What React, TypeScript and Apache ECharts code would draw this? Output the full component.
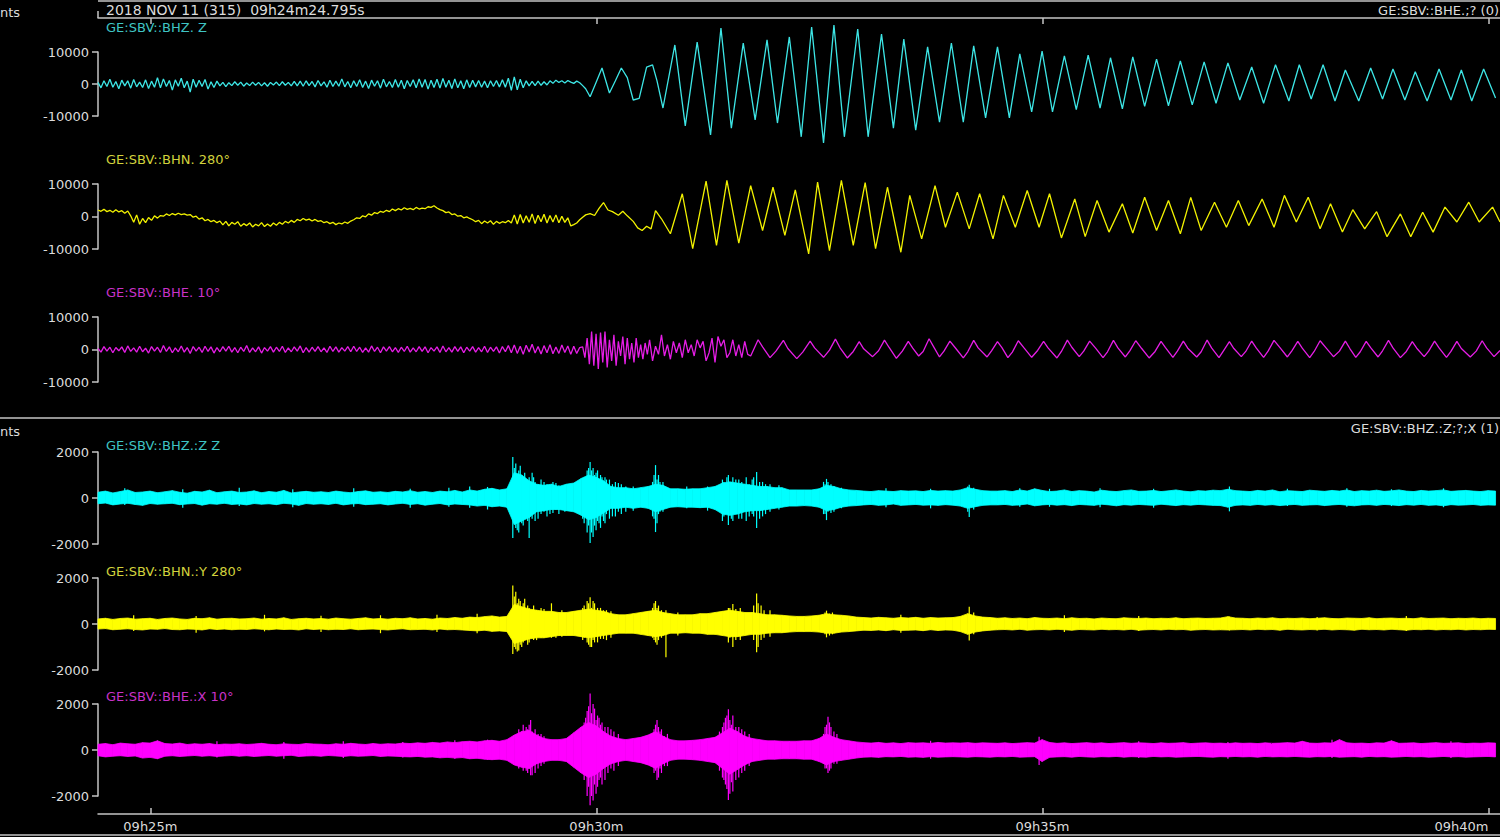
import React, { useEffect, useRef } from "react";
import * as echarts from "echarts";

// ---- time axis (seconds after 09h24m24.795s) ----
const SPAN_S = 943;
const TICK_S = [35.205, 335.205, 635.205, 935.205];
const TICK_LABELS = ["09h25m", "09h30m", "09h35m", "09h40m"];
const NOISE_STEP_S = 2;
const BAND_STEP_S = 5;

// ---- upper panel: broadband traces, kilo-counts ----
// noise part sampled every 2 s from t=0
const Z_NOISE_K = [
  0.5,-1.2,1.0,-0.8,1.5,-1.0,0.8,-1.5,1.2,-0.6,1.0,-1.3,1.4,-0.9,0.6,-1.1,1.3,-1.4,0.9,-1.0,2.0,
  -1.2,1.6,-0.8,1.1,-1.9,1.3,-0.7,1.8,-1.2,0.9,-2.5,1.5,-1.0,1.2,-0.8,1.4,-1.6,0.7,-1.1,0.9,
  -0.6,0.5,-0.8,0.4,-0.5,0.7,-0.4,0.6,-0.7,0.3,-0.5,0.6,-0.4,0.5,-0.6,0.4,-0.7,0.5,-0.3,0.6,-0.5,0.7,-0.4,0.5,-0.6,
  0.8,-0.6,0.9,-0.7,1.0,-0.5,0.8,-0.9,1.1,-0.6,0.7,-1.0,1.2,-0.8,0.9,-0.7,1.6,-0.9,0.8,-1.2,
  1.0,-0.8,1.3,-1.1,0.9,-1.4,1.2,-0.7,1.0,-1.3,1.5,-0.9,0.8,-1.1,1.4,-1.0,1.2,-1.5,1.1,-0.8,
  1.3,-1.2,1.6,-1.0,1.4,-1.6,1.2,-1.1,1.5,-1.3,1.7,-1.0,1.2,-1.4,1.6,-1.2,1.0,-1.5,1.3,-1.1,
  1.2,-0.9,1.1,-1.0,0.9,-1.2,1.0,-0.8,1.1,-0.9,1.3,-1.0,1.8,-2.0,2.2,
  -1.8,1.5,-1.2,1.0,-0.6,0.8,-0.5,0.9,-0.4,0.7,-0.3,1.0,0.2,1.2,0.5,1.0,0.3,1.1,0.6,0.2,0.9,0.4,-0.5,-1.5,
];
// surface-wave part: [t s, kilo-counts] at peaks and troughs
const Z_WAVE_K = [
  [331,-4.0],[335,0.5],[339,5.0],[344,-2.8],[348,1.0],[352,5.0],[356,2.0],[360,-5.0],[364,-4.5],[369,5.3],[373,6.0],[376,1.0],[380,-7.5],
  [388,12.2],[395,-13.1],[403,13.1],[412,-15.9],[419,17.5],[426,-13.8],[434,12.8],[442,-11.2],[450,13.8],[457,-12.2],
  [465,14.7],[473,-16.5],[480,17.8],[488,-18.4],[495,18.4],[502,-16.5],[511,17.2],[518,-16.5],[527,15.6],[535,-13.8],
  [542,14.0],[550,-14.4],[558,11.6],[566,-11.9],[574,12.8],[582,-11.9],[589,11.9],[597,-10.6],[605,11.6],[613,-10.6],
  [620,9.4],[628,-8.7],[635,10.3],[642,-8.7],[650,8.8],[658,-8.0],[666,9.0],[674,-7.5],[681,8.2],[689,-7.8],[696,8.5],
  [704,-7.0],[712,7.8],[720,-6.8],[728,7.2],[736,-6.5],[744,6.9],[752,-6.0],[760,6.6],[768,-5.0],[776,5.3],[784,-6.0],
  [792,6.0],[801,-5.3],[808,6.0],[816,-4.7],[824,6.0],[832,-5.3],[839,4.4],[848,-5.3],[856,5.0],[864,-4.7],[871,4.7],
  [879,-5.0],[886,3.8],[894,-5.3],[902,4.7],[910,-5.0],[917,4.4],[924,-5.3],[932,4.7],[940,-4.4],
];

const N_NOISE_K = [
  2.0,1.6,2.2,1.5,1.9,1.3,2.1,1.4,1.8,1.0,1.7,
  0.2,-1.8,0.5,-2.4,-0.6,-1.9,-0.3,-1.2,0.2,-0.5,
  0.3,0.1,0.8,0.3,0.9,0.5,1.0,0.6,0.8,0.4,
  0.6,-0.2,0.1,-0.8,-0.4,-1.3,-0.9,-1.6,-1.2,-1.9,
  -1.4,-2.6,-1.5,-2.9,-1.8,-2.4,-1.6,-3.0,-2.2,-2.8,-2.0,-3.2,-2.4,-2.9,-1.9,-3.1,-2.3,-3.0,-2.0,-2.7,
  -1.8,-2.4,-1.5,-2.0,-1.2,-1.8,-0.9,-1.3,-0.6,-1.1,-0.8,-1.4,-0.9,-1.5,
  -1.3,-1.9,-1.6,-2.2,-1.8,-2.5,-2.0,-2.3,-1.7,-2.1,-1.4,
  -1.0,-0.4,-0.6,0.2,-0.1,0.8,0.4,1.2,0.9,1.6,1.3,
  1.9,1.5,2.3,1.8,2.4,2.0,2.7,2.2,2.5,2.1,2.8,2.3,2.6,2.4,3.0,2.8,3.3,
  2.6,2.1,1.8,1.2,1.4,0.6,0.8,0.1,0.3,-0.4,-0.1,-0.6,
  -1.0,-1.6,-1.2,-2.2,-1.4,-2.0,-1.3,-2.4,-1.5,-2.1,-1.6,-1.9,-1.2,-2.0,
  0.5,-2.3,0.6,-2.0,0.2,-1.8,0.8,-2.2,0.4,-1.6,0.7,-2.0,0.3,-1.7,0.5,-1.9,0.1,-1.8,-0.4,
  -2.9,-2.5,-2.0,-1.0,-0.2,0.5,
];
const N_WAVE_K = [
  [331,0.9],[334,0.3],[337,2.5],[340,4.3],[343,2.0],[346,1.5],[350,0.4],[353,1.6],[356,0.2],[360,-1.5],[363,-3.5],
  [366,-4.3],[369,-3.0],[372,-3.8],[375,1.8],[379,-0.7],[385,-5.3],[393,7.0],[400,-9.9],[409,10.9],[416,-8.9],
  [423,11.1],[431,-8.2],[439,9.5],[447,-4.3],[454,9.0],[462,-5.8],[469,8.2],[478,-11.5],[484,10.6],[492,-10.5],
  [500,11.1],[508,-8.9],[516,10.4],[523,-9.9],[531,9.0],[540,-11.0],[546,6.5],[554,-6.9],[563,9.5],[570,-3.3],
  [578,7.5],[586,-3.8],[593,7.0],[602,-6.9],[609,6.5],[617,-3.3],[625,8.0],[633,-3.3],[640,7.0],[648,-6.6],
  [657,5.4],[664,-6.2],[672,4.9],[680,-4.8],[689,3.9],[696,-5.1],[704,5.9],[712,-4.3],[720,4.9],[728,-5.3],
  [735,5.9],[742,-4.3],[751,4.4],[759,-3.3],[767,4.9],[774,-2.8],[783,5.4],[791,-3.3],[798,6.5],[806,-1.7],
  [814,5.9],[822,-3.8],[829,3.9],[837,-4.8],[844,2.1],[852,-3.8],[860,1.5],[867,-6.2],[876,0.8],[883,-6.2],
  [891,1.3],[898,-4.8],[906,2.9],[914,-1.7],[922,4.4],[929,-1.7],[938,2.9],[943,-1.7],
];

const E_NOISE_K = [
  0.3,-0.8,0.9,-0.5,0.7,-1.0,0.6,-0.4,0.8,-0.9,1.1,-0.6,0.5,-0.8,1.0,-0.7,0.4,-1.1,0.9,-0.5,0.7,
  -0.9,1.2,-0.6,0.8,-1.0,0.5,-0.7,1.1,-0.8,0.6,-1.2,0.9,-0.5,0.7,-0.9,1.0,-0.6,0.8,-1.1,0.6,
  -0.7,0.9,-0.5,1.0,-0.8,0.6,-1.0,0.7,-0.6,1.2,-0.9,0.5,-0.7,0.8,-1.1,0.6,-0.5,0.9,-0.8,0.7,
  -0.6,1.0,-0.9,0.5,-0.7,0.8,-0.5,1.1,-1.0,0.6,-0.8,0.7,-0.6,0.9,-0.7,0.5,-0.9,1.0,-0.6,0.8,
  -0.8,0.6,-0.5,0.9,-0.7,1.0,-0.6,0.7,-0.9,0.5,-0.8,1.1,-0.6,0.7,-1.0,0.8,-0.5,0.9,-0.7,0.6,
  -0.9,0.7,-0.6,1.0,-0.8,0.5,-0.7,0.9,-0.6,0.8,-1.0,0.6,-0.5,0.8,-0.9,1.1,-0.7,0.6,-0.8,0.9,
  -0.6,0.8,-1.0,0.7,-0.5,0.9,-0.8,0.6,-0.7,1.0,-0.9,0.7,-0.6,0.8,-1.1,0.9,-0.7,1.2,-1.0,
  1.4,-1.2,1.0,-1.5,1.3,-0.8,1.6,-1.1,0.9,-1.4,1.2,-1.0,1.5,-1.3,0.8,-1.2,1.4,-0.9,1.1,-1.5,1.0,-1.2,0.6,
];
const E_WAVE_K = [
  [326,0.8],[327.5,-2.5],[329,3.5],[330.5,-4.5],[332,5.5],[333.5,-5.0],[335,4.8],[336.5,-6.0],[338,5.2],[339.5,-4.0],
  [341,5.5],[342.5,-5.5],[344,3.0],[345.5,-3.5],[347,4.5],[348.5,-5.0],[350,2.5],[351.5,-2.0],[353,4.0],[354.5,-4.5],
  [356,3.5],[357.5,-3.0],[359,2.0],[360.5,-4.0],[362,3.5],[363.5,-2.5],[365,1.5],[366.5,-3.0],[368,2.0],[369.5,-1.5],
  [371,3.0],[373,-3.5],[375,1.0],[377,-1.5],[379,4.5],[381,-2.0],[383,1.5],[385,-3.0],[387,2.5],[389,-1.0],
  [391,2.0],[393,-2.5],[395,3.0],[397,-1.0],[399,1.5],[401,-2.0],[403,3.0],[405,0.5],[407,2.5],[409,-3.5],
  [411,-1.0],[413,3.5],[415,-4.0],[417,4.0],[419,1.0],[421,3.0],[423,-2.5],[425,-1.0],[427,3.0],[429,-2.0],
  [431,1.5],[433,-2.5],[435,2.5],[437,-1.5],[439,-2.0],
  [444,3.0],[447,0.8],[452,-2.5],[456,-0.5],[461,2.8],[464,0.3],[470,-2.8],[474,-0.8],
  [479,2.6],[482,0.5],[488,-2.4],[492,-0.2],[496,3.2],[499,0.6],[504,-2.6],[508,-0.6],
  [512,2.4],[515,0.2],[521,-2.2],[525,-0.4],[529,2.9],[532,0.7],[537,-2.7],[541,-0.5],
  [545,2.5],[548,0.4],[552,-2.0],[555,-0.6],[559,3.3],[562,0.9],[566,-2.3],[569,-0.5],
  [573,2.6],[577,0.3],[582,-2.6],[585,-0.7],[589,2.8],[592,0.5],[598,-2.3],[601,-0.4],
  [605,2.4],[608,0.6],[612,-2.5],[615,-0.8],[619,2.7],[623,0.4],[628,-2.4],[632,-0.3],
  [636,2.5],[639,0.5],[645,-2.6],[648,-0.6],[652,2.9],[655,0.7],[660,-2.2],[663,-0.5],
  [667,2.6],[671,0.4],[676,-2.5],[679,-0.7],[683,2.8],[686,0.5],[691,-2.3],[694,-0.4],
  [698,2.7],[702,0.3],[707,-2.6],[711,-0.6],[715,2.5],[718,0.6],[723,-2.4],[726,-0.5],
  [730,2.6],[733,0.4],[739,-2.3],[742,-0.7],[746,2.9],[749,0.5],[754,-2.5],[757,-0.4],
  [761,2.4],[764,0.3],[769,-2.2],[772,-0.6],[776,2.6],[779,0.5],[784,-2.4],[787,-0.5],
  [791,2.8],[795,0.6],[800,-2.3],[803,-0.4],[807,2.5],[810,0.4],[815,-2.5],[818,-0.6],
  [822,2.7],[826,0.5],[831,-2.2],[835,-0.5],[839,2.6],[842,0.3],[846,-2.4],[849,-0.7],
  [853,2.5],[856,0.6],[861,-2.3],[864,-0.4],[868,2.8],[871,0.5],[876,-2.5],[880,-0.6],
  [884,2.4],[887,0.4],[892,-2.2],[895,-0.5],[899,2.6],[902,0.5],[907,-2.4],[910,-0.6],
  [914,2.5],[917,0.3],[923,-2.3],[927,-0.5],[931,2.7],[934,0.5],[939,-2.2],[943,-0.3],
];

// ---- lower panel: high-pass traces, envelope (counts) every 5 s, plus spikes [t, top, bottom] ----
const BZ_HI = [
  250,300,220,280,350,240,260,300,230,270,320,250,210,290,260,340,230,270,300,240,260,310,230,280,250,330,220,260,290,250,270,240,300,260,230,280,310,250,270,240,290,260,320,250,280,240,300,270,330,260,
  350,300,380,420,350,400,
  1100,1000,750,600,550,600,500,600,650,850,1000,900,750,500,450,450,400,450,500,600,550,400,400,380,400,400,450,500,650,700,650,600,550,500,500,450,450,350,350,350,350,400,550,500,400,350,330,
  300,280,320,300,280,320,300,310,280,330,300,320,300,
  350,450,380,320,300,
  300,320,280,350,300,400,330,280,300,350,280,320,300,260,340,300,280,320,350,290,300,330,280,310,350,300,270,320,300,340,
  320,380,320,
  300,280,330,300,350,270,320,300,280,340,310,290,330,300,350,280,320,300,340,290,310,350,300,280,330,300,320,350,290,310,330,300,280,320,300,
];
const BZ_LO = [
  -250,-220,-300,-260,-230,-280,-320,-240,-270,-250,-230,-290,-260,-240,-310,-250,-270,-230,-280,-260,-300,-240,-270,-250,-290,-230,-260,-320,-240,-270,-250,-280,-230,-300,-260,-240,-290,-270,-250,-300,-260,-230,-280,-250,-310,-270,-240,-300,-260,-280,
  -300,-350,-320,-380,-350,-400,
  -1150,-1000,-850,-600,-550,-500,-500,-550,-600,-750,-950,-850,-650,-450,-450,-400,-450,-400,-450,-600,-500,-400,-380,-400,-400,-420,-400,-500,-700,-750,-700,-600,-550,-550,-500,-450,-400,-350,-350,-330,-350,-400,-550,-500,-400,-350,-330,
  -300,-280,-320,-300,-260,-320,-300,-280,-310,-300,-320,-290,-310,
  -350,-450,-380,-320,-300,
  -300,-280,-320,-300,-260,-340,-300,-280,-310,-290,-330,-280,-300,-320,-270,-300,-340,-290,-310,-280,-300,-320,-270,-300,-330,-290,-310,-280,-300,-320,
  -330,-400,-320,
  -300,-320,-280,-310,-290,-330,-300,-280,-320,-300,-290,-330,-300,-280,-310,-340,-300,-290,-320,-280,-300,-330,-290,-310,-280,-320,-300,-340,-290,-310,-300,-280,-320,-300,-310,
];
const BZ_SPIKES = [
  [18,420,-300],[57,380,-420],[95,450,-350],[131,380,-400],[172,420,-380],[210,400,-420],[236,450,-380],[250,500,-420],[262,480,-500],
  [279,1780,-1740],[280,1300,-1100],[281,1500,-1300],[282,1000,-1400],[283,1200,-1500],[284,1400,-900],[285,900,-1100],
  [286,800,-1200],[287,1100,-800],[289,700,-1000],[290,900,-1740],[292,1100,-900],[293,900,-700],[294,700,-1000],
  [296,600,-900],[298,800,-700],[300,700,-600],[302,600,-800],[304,500,-700],[306,700,-650],[308,650,-500],[310,550,-700],
  [314,500,-600],[318,600,-500],[326,800,-900],[327,900,-1100],[329,1200,-1500],[330,1300,-1200],[331,1570,-1960],
  [332,1200,-1500],[333,1300,-1700],[334,1000,-1200],[335,1100,-1400],[336,1200,-1000],[337,800,-1100],[338,1000,-1300],
  [339,900,-800],[340,700,-1000],[341,900,-1100],[342,800,-700],[344,800,-900],[346,600,-800],[348,700,-800],[350,650,-600],
  [352,600,-700],[355,500,-600],[360,500,-550],[373,700,-800],[374,1000,-900],[375,1430,-1480],[376,800,-1100],
  [377,1000,-700],[378,700,-600],[380,700,-600],[396,500,-450],[410,500,-550],
  [420,800,-1000],[421,700,-800],[423,900,-700],[424,1000,-1170],[426,700,-900],[427,900,-1000],[429,800,-700],
  [431,800,-900],[433,700,-900],[436,900,-1000],[438,600,-800],[440,800,-700],[441,900,-800],[443,1130,-1300],
  [445,700,-900],[447,700,-800],[449,600,-700],[452,600,-600],[458,550,-500],[488,700,-700],[489,600,-700],
  [490,830,-960],[491,700,-600],[493,600,-650],[495,500,-600],[500,450,-450],
  [530,420,-400],[560,400,-450],[585,500,-600],[586,580,-830],[589,450,-500],[620,420,-380],[640,400,-380],[674,420,-400],
  [710,400,-420],[761,500,-580],[800,400,-350],[840,420,-380],[870,380,-350],[905,420,-400],
];

const BY_HI = [
  220,250,200,240,260,210,230,250,200,240,260,220,200,250,230,270,210,240,250,220,230,260,210,240,220,270,200,230,250,220,240,210,260,230,210,240,270,220,240,210,250,230,270,220,240,210,260,240,280,250,
  300,280,320,350,300,330,
  850,750,650,600,550,550,500,500,550,600,650,600,550,450,400,400,450,500,550,600,500,450,400,400,400,450,450,500,550,600,550,500,500,450,400,400,380,350,330,330,350,380,450,400,380,350,300,
  280,260,290,270,250,280,260,290,250,280,260,270,280,
  330,450,350,300,280,
  250,270,240,260,230,280,250,240,260,230,270,240,250,220,260,240,230,270,250,240,260,230,250,240,270,230,250,260,240,250,
  260,320,260,
  250,230,260,240,270,230,250,240,260,230,250,270,240,230,260,250,240,270,230,250,260,240,250,230,270,240,250,260,230,250,240,260,230,250,240,
];
const BY_LO = [
  -220,-200,-250,-230,-210,-240,-260,-220,-230,-200,-240,-250,-220,-230,-260,-210,-240,-220,-250,-230,-240,-210,-230,-250,-220,-240,-230,-260,-210,-240,-220,-250,-230,-240,-210,-250,-230,-220,-240,-260,-230,-210,-250,-240,-230,-260,-220,-250,-240,-260,
  -280,-300,-270,-320,-300,-330,
  -850,-750,-650,-600,-600,-550,-500,-500,-500,-550,-600,-550,-500,-450,-400,-400,-400,-450,-500,-550,-500,-400,-400,-380,-400,-400,-450,-450,-500,-550,-550,-500,-450,-450,-400,-380,-380,-350,-330,-330,-330,-350,-400,-400,-350,-330,-300,
  -270,-280,-260,-290,-250,-280,-270,-260,-290,-250,-280,-260,-270,
  -330,-450,-350,-300,-270,
  -250,-240,-260,-230,-270,-250,-240,-260,-230,-250,-270,-240,-250,-260,-230,-250,-240,-260,-230,-270,-250,-240,-260,-230,-250,-240,-270,-250,-240,-260,
  -250,-260,-250,
  -240,-260,-230,-250,-240,-270,-230,-250,-260,-240,-250,-230,-260,-240,-250,-270,-230,-250,-240,-260,-230,-250,-270,-240,-250,-230,-260,-240,-250,-230,-260,-240,-250,-230,-240,
];
const BY_SPIKES = [
  [24,380,-300],[66,350,-380],[112,400,-320],[150,360,-350],[190,380,-400],[228,400,-350],[255,450,-400],
  [279,1670,-1300],[280,1200,-1000],[281,1400,-1100],[282,900,-1200],[283,1100,-1150],[284,1000,-900],[285,700,-1000],
  [286,900,-800],[287,1100,-700],[289,800,-900],[290,700,-800],[293,800,-700],[295,600,-700],[298,700,-600],[300,650,-550],
  [305,900,-600],[308,500,-600],[312,600,-550],[326,700,-700],[327,800,-600],[329,1000,-800],[330,900,-900],
  [331,1160,-1000],[332,700,-1000],[333,1000,-700],[334,900,-800],[336,700,-800],[338,700,-650],[340,600,-650],
  [342,600,-700],[345,550,-600],[373,700,-600],[374,900,-700],[375,1000,-800],[376,700,-900],[377,800,-700],
  [379,600,-600],[382,600,-1450],[390,500,-500],[424,700,-800],[425,700,-600],[427,870,-1000],[429,650,-700],
  [432,700,-700],[441,800,-700],[443,1330,-1230],[444,900,-1000],[446,800,-700],[448,600,-600],[452,600,-550],
  [489,500,-450],[490,580,-580],[492,450,-500],[494,500,-450],[540,400,-380],
  [586,750,-720],[589,500,-450],[650,380,-350],[700,350,-300],[761,320,-280],[820,300,-280],[880,350,-300],
];

const BX_HI = [
  250,280,230,300,270,250,320,300,400,280,260,300,240,270,250,280,230,260,250,270,240,260,290,250,230,270,250,240,280,260,250,230,270,250,290,260,240,280,250,270,260,300,280,310,290,330,300,350,320,360,
  380,350,400,420,380,450,
  650,800,850,650,500,450,450,500,750,1000,1200,1050,800,600,500,450,500,550,650,800,600,450,400,400,420,450,500,550,750,950,800,600,500,450,400,400,380,380,380,400,400,500,700,550,450,400,350,
  320,300,330,290,310,280,320,300,310,290,330,300,310,
  300,320,290,310,300,
  290,310,280,300,320,300,450,330,290,310,280,300,320,290,310,280,300,320,290,310,300,280,310,290,300,320,280,300,310,290,
  300,280,310,
  290,300,280,310,290,300,320,300,380,300,290,310,300,450,310,290,300,280,310,300,400,290,300,310,280,300,320,290,300,310,280,300,290,310,300,
];
const BX_LO = [
  -250,-300,-270,-250,-280,-260,-350,-320,-380,-270,-250,-280,-260,-240,-270,-250,-280,-260,-240,-270,-250,-280,-260,-240,-270,-250,-230,-280,-260,-250,-270,-240,-260,-280,-250,-270,-260,-240,-280,-260,-270,-290,-300,-280,-310,-300,-340,-320,-350,-330,
  -380,-360,-400,-420,-400,-450,
  -650,-750,-800,-600,-500,-450,-450,-500,-750,-1000,-1200,-1050,-800,-600,-500,-450,-500,-550,-650,-800,-600,-450,-400,-400,-420,-450,-500,-550,-800,-1050,-850,-650,-500,-450,-400,-400,-380,-380,-380,-400,-400,-500,-650,-500,-450,-400,-350,
  -310,-300,-320,-290,-300,-280,-310,-300,-320,-290,-310,-300,-290,
  -300,-310,-290,-300,-310,
  -290,-300,-280,-310,-300,-290,-500,-320,-300,-290,-310,-280,-300,-310,-290,-300,-280,-310,-290,-300,-310,-280,-300,-290,-310,-300,-290,-280,-300,-310,
  -290,-300,-280,
  -300,-290,-310,-280,-300,-290,-300,-280,-300,-310,-290,-300,-280,-310,-300,-290,-310,-280,-300,-290,-310,-300,-280,-300,-290,-310,-300,-280,-300,-290,-310,-300,-290,-280,-300,
];
const BX_SPIKES = [
  [40,400,-350],[80,380,-330],[125,350,-380],[165,380,-350],[205,350,-330],[240,420,-380],[262,450,-420],
  [283,900,-800],[285,800,-700],[286,1100,-900],[288,1000,-900],[289,900,-1000],[290,1100,-800],[291,1300,-1100],
  [292,800,-1100],[294,900,-1000],[296,700,-800],[298,700,-700],[300,600,-600],[326,900,-1000],[327,1200,-1300],
  [328,1400,-1100],[329,1700,-2000],[330,1900,-1600],[331,2460,-2400],[332,1600,-2000],[333,2000,-2200],[334,1800,-1500],
  [335,1300,-1900],[336,1500,-1600],[337,1400,-1300],[338,1100,-1200],[339,1200,-1500],[341,1000,-1300],[343,1000,-1000],
  [345,900,-800],[347,800,-900],[350,700,-700],[374,900,-1000],[375,1100,-900],[376,1300,-1300],[377,1000,-1200],
  [378,800,-800],[379,900,-1000],[381,600,-700],[383,700,-700],[418,800,-900],[420,1000,-1200],[421,1200,-1300],
  [422,1400,-1500],[423,1500,-1700],[424,1770,-2170],[425,1300,-1900],[426,1100,-1400],[427,1500,-1800],[429,1000,-1300],
  [431,1000,-1200],[433,900,-1000],[435,800,-900],[438,700,-700],[488,700,-600],[489,1000,-800],[490,1100,-800],
  [491,1450,-1000],[492,1200,-900],[493,1000,-800],[495,800,-600],[497,700,-600],[560,400,-380],
  [633,580,-650],[700,380,-350],[760,350,-380],[811,350,-300],[830,450,-350],[870,400,-300],[910,380,-350],
];

const FONT = '"DejaVu Sans", Verdana, sans-serif';
const AXIS_COLOR = "#c4c4c4";
const LABEL_COLOR = "#dcdcdc";

const GRIDS = [
  { top: 52, height: 64, lim: 10000 },
  { top: 184, height: 65, lim: 10000 },
  { top: 317, height: 65, lim: 10000 },
  { top: 452, height: 92, lim: 2000 },
  { top: 578, height: 92, lim: 2000 },
  { top: 704, height: 92, lim: 2000 },
];

function topData(noise: number[], wave: number[][]) {
  const a = noise.map((v, i) => [i * NOISE_STEP_S, v * 1000]);
  const b = wave.map(([t, v]) => [t, v * 1000]);
  return a.concat(b);
}

function bandSeries(idx: number, hi: number[], lo: number[], color: string) {
  return {
    type: "custom",
    xAxisIndex: idx,
    yAxisIndex: idx,
    silent: true,
    clip: false,
    encode: { x: 0, y: [1, 2] },
    data: hi.map((h, i) => [i * BAND_STEP_S, h, lo[i]]),
    renderItem: (params: any, api: any) => {
      const i = params.dataIndex;
      if (i >= hi.length - 1) return null;
      const t0 = i * BAND_STEP_S;
      const t1 = (i + 1) * BAND_STEP_S;
      const p1 = api.coord([t0, hi[i]]);
      const p2 = api.coord([t1, hi[i + 1]]);
      const p3 = api.coord([t1, lo[i + 1]]);
      const p4 = api.coord([t0, lo[i]]);
      return {
        type: "polygon",
        shape: { points: [p1, p2, p3, p4] },
        style: { fill: color, stroke: color, lineWidth: 0.8 },
      };
    },
  };
}

function spikeSeries(idx: number, spikes: number[][], color: string) {
  return {
    type: "custom",
    xAxisIndex: idx,
    yAxisIndex: idx,
    silent: true,
    clip: false,
    encode: { x: 0, y: [1, 2] },
    data: spikes,
    renderItem: (params: any, api: any) => {
      const a = api.coord([api.value(0), api.value(1)]);
      const b = api.coord([api.value(0), api.value(2)]);
      return {
        type: "line",
        shape: { x1: a[0], y1: a[1], x2: b[0], y2: b[1] },
        style: { stroke: color, lineWidth: 1.2 },
      };
    },
  };
}

function txt(x: number, y: number, text: string, color: string, size: number, align = "left") {
  return {
    type: "text",
    x,
    y,
    silent: true,
    style: {
      text,
      fill: color,
      font: `${size}px ${FONT}`,
      textAlign: align,
      textVerticalAlign: "middle",
      align,
      verticalAlign: "middle",
    },
  };
}

function hline(x1: number, x2: number, y: number) {
  return {
    type: "line",
    silent: true,
    shape: { x1, y1: y, x2, y2: y },
    style: { stroke: AXIS_COLOR, lineWidth: 1.5 },
  };
}

export default function App() {
  const ref = useRef<HTMLDivElement>(null);

  useEffect(() => {
    if (!ref.current) return;
    const chart = echarts.init(ref.current, null, { renderer: "svg" });

    const tickFormatter = (v: number) => {
      const k = TICK_S.findIndex((s) => Math.abs(s - v) < 1);
      return k >= 0 ? TICK_LABELS[k] : "";
    };

    const xAxes: any[] = GRIDS.map((_, i) => {
      const isBottom = i === GRIDS.length - 1;
      return {
        type: "value",
        gridIndex: i,
        min: 0,
        max: SPAN_S,
        show: isBottom,
        position: "bottom",
        offset: isBottom ? 18 : 0,
        axisLine: { show: true, onZero: false, lineStyle: { color: AXIS_COLOR, width: 1.5 } },
        axisTick: { show: true, inside: true, length: 6, customValues: TICK_S, lineStyle: { color: AXIS_COLOR, width: 1.5 } },
        axisLabel: {
          show: isBottom,
          customValues: TICK_S,
          formatter: tickFormatter,
          color: LABEL_COLOR,
          fontFamily: FONT,
          fontSize: 13,
          margin: 6,
          alignMaxLabel: "right",
        },
        splitLine: { show: false },
      };
    });
    // header time line across the top of the upper panel
    xAxes.push({
      type: "value",
      gridIndex: 0,
      min: 0,
      max: SPAN_S,
      position: "top",
      offset: 34,
      axisLine: { show: true, onZero: false, lineStyle: { color: AXIS_COLOR, width: 1.5 } },
      axisTick: { show: true, inside: true, length: 6, customValues: TICK_S, lineStyle: { color: AXIS_COLOR, width: 1.5 } },
      axisLabel: { show: false, customValues: TICK_S },
      splitLine: { show: false },
    });

    const yAxes = GRIDS.map((g, i) => ({
      type: "value",
      gridIndex: i,
      min: -g.lim,
      max: g.lim,
      interval: g.lim,
      axisLine: { show: true, onZero: false, lineStyle: { color: AXIS_COLOR, width: 1.5 } },
      axisTick: { show: true, length: 6, lineStyle: { color: AXIS_COLOR, width: 1.5 } },
      axisLabel: {
        color: LABEL_COLOR,
        fontFamily: FONT,
        fontSize: 13,
        margin: 9,
        formatter: (v: number) => String(v),
      },
      splitLine: { show: false },
    }));

    const lineSeries = (idx: number, data: number[][], color: string) => ({
      type: "line",
      xAxisIndex: idx,
      yAxisIndex: idx,
      data,
      showSymbol: false,
      symbol: "none",
      clip: false,
      silent: true,
      lineStyle: { color, width: 1.3 },
    });

    const option: any = {
      animation: false,
      backgroundColor: "#000000",
      grid: GRIDS.map((g) => ({
        left: 98,
        right: 0,
        top: g.top,
        height: g.height,
        containLabel: false,
        outerBoundsMode: "none",
      })),
      xAxis: xAxes,
      yAxis: yAxes,
      series: [
        lineSeries(0, topData(Z_NOISE_K, Z_WAVE_K), "#3de6e6"),
        lineSeries(1, topData(N_NOISE_K, N_WAVE_K), "#f2f200"),
        lineSeries(2, topData(E_NOISE_K, E_WAVE_K), "#e61ee6"),
        bandSeries(3, BZ_HI, BZ_LO, "#00ffff"),
        spikeSeries(3, BZ_SPIKES, "#00ffff"),
        bandSeries(4, BY_HI, BY_LO, "#ffff00"),
        spikeSeries(4, BY_SPIKES, "#ffff00"),
        bandSeries(5, BX_HI, BX_LO, "#ff00ff"),
        spikeSeries(5, BX_SPIKES, "#ff00ff"),
      ],
      graphic: [
        hline(98, 1500, 1),
        { type: "line", silent: true, shape: { x1: 98, y1: 11, x2: 98, y2: 18 }, style: { stroke: AXIS_COLOR, lineWidth: 1.5 } },
        hline(0, 1500, 418),
        hline(0, 1500, 835),
        txt(0, 12, "nts", LABEL_COLOR, 13),
        txt(106, 10, "2018 NOV 11 (315)\u00a0 09h24m24.795s", LABEL_COLOR, 14),
        txt(1499, 10, "GE:SBV::BHE.;? (0)", LABEL_COLOR, 13, "right"),
        txt(106, 27, "GE:SBV::BHZ. Z", "#3fc4c4", 13),
        txt(106, 159, "GE:SBV::BHN. 280°", "#d2d23c", 13),
        txt(106, 292, "GE:SBV::BHE. 10°", "#c832c8", 13),
        txt(0, 431, "nts", LABEL_COLOR, 13),
        txt(1499, 428, "GE:SBV::BHZ.:Z;?;X (1)", LABEL_COLOR, 13, "right"),
        txt(106, 445, "GE:SBV::BHZ.:Z Z", "#3fc4c4", 13),
        txt(106, 571, "GE:SBV::BHN.:Y 280°", "#d2d23c", 13),
        txt(106, 696, "GE:SBV::BHE.:X 10°", "#c832c8", 13),
      ],
    };

    chart.setOption(option);
    return () => chart.dispose();
  }, []);

  return (
    <div
      ref={ref}
      style={{ position: "fixed", left: 0, top: 0, width: 1500, height: 837, background: "#000" }}
    />
  );
}
